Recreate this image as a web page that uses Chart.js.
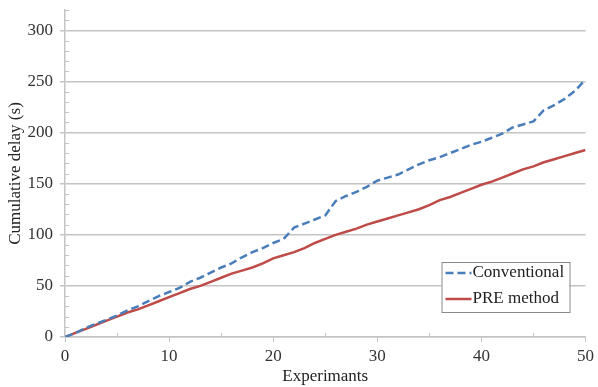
<!DOCTYPE html>
<html>
<head>
<meta charset="utf-8">
<script src="https://cdn.jsdelivr.net/npm/chart.js@4"></script>
<style>
  html, body { margin: 0; padding: 0; background: #fff; }
  #wrap { width: 598px; height: 387px; }
</style>
</head>
<body>
<div id="wrap"><canvas id="delayChart" width="598" height="387"></canvas></div>
<script>
const experiments = Array.from({ length: 51 }, (_, i) => i);

const conventional = [
  0, 4, 9, 13, 17, 21, 26, 30, 35, 40,
  44, 48, 54, 58, 63, 68, 72, 78, 83, 87,
  92, 96, 107, 111, 115, 119, 133, 138, 142, 147,
  153, 156, 159, 164, 169, 173, 176, 180, 184, 188,
  191, 195, 199, 205, 208, 211, 222, 227, 233, 241,
  252
];

const preMethod = [
  0, 4, 8, 12, 16, 20, 24, 27, 31, 35,
  39, 43, 47, 50, 54, 58, 62, 65, 68, 72,
  77, 80, 83, 87, 92, 96, 100, 103, 106, 110,
  113, 116, 119, 122, 125, 129, 134, 137, 141, 145,
  149, 152, 156, 160, 164, 167, 171, 174, 177, 180,
  183
];

const seriesNames = ["Conventional", "PRE method"];
const yMajorTicks = [0, 50, 100, 150, 200, 250, 300];

const FONT = "'Liberation Serif', 'Times New Roman', serif";
const AXIS_GRAY = "#c4c4c4";

// small inside ticks between the labelled ones
const minorTicks = {
  id: "minorTicks",
  afterDraw(chart) {
    const { ctx, scales: { x, y } } = chart;
    ctx.save();
    ctx.strokeStyle = AXIS_GRAY;
    ctx.lineWidth = 1;
    ctx.beginPath();
    for (let v = 10; v <= 320; v += 10) {
      if (v % 50 === 0) continue;
      const py = Math.round(y.getPixelForValue(v)) + 0.5;
      ctx.moveTo(x.left, py);
      ctx.lineTo(x.left + 4, py);
    }
    for (let v = 5; v < 50; v += 10) {
      const px = Math.round(x.getPixelForValue(v)) + 0.5;
      ctx.moveTo(px, y.bottom);
      ctx.lineTo(px, y.bottom - 4);
    }
    ctx.stroke();
    ctx.restore();
  }
};

// boxed legend sitting inside the plot, lower right
const boxLegend = {
  id: "boxLegend",
  afterDraw(chart) {
    const { ctx, chartArea } = chart;
    const w = 128, h = 50;
    const left = chartArea.right - 16 - w;
    const top = chartArea.bottom - 25 - h;
    ctx.save();
    ctx.fillStyle = "#fff";
    ctx.fillRect(left, top, w, h);
    ctx.strokeStyle = "#8a8a8a";
    ctx.lineWidth = 1;
    ctx.strokeRect(left + 0.5, top + 0.5, w, h);
    ctx.font = "17px " + FONT;
    ctx.textBaseline = "middle";
    chart.data.datasets.forEach((ds, i) => {
      const cy = top + 11 + i * 26;
      ctx.strokeStyle = ds.borderColor;
      ctx.lineWidth = 2.5;
      ctx.setLineDash(ds.borderDash || []);
      ctx.beginPath();
      ctx.moveTo(left + 4, cy);
      ctx.lineTo(left + 30, cy);
      ctx.stroke();
      ctx.setLineDash([]);
      ctx.fillStyle = "#222";
      ctx.fillText(ds.label, left + 31, cy);
    });
    ctx.restore();
  }
};

new Chart(document.getElementById("delayChart"), {
  type: "line",
  data: {
    labels: experiments,
    datasets: [
      {
        label: seriesNames[0],
        data: conventional,
        borderColor: "#4a7ebb",
        borderWidth: 2.5,
        borderDash: [8, 4],
        pointRadius: 0,
        tension: 0
      },
      {
        label: seriesNames[1],
        data: preMethod,
        borderColor: "#be4b48",
        borderWidth: 2.5,
        pointRadius: 0,
        tension: 0
      }
    ]
  },
  options: {
    responsive: false,
    animation: false,
    layout: { padding: { top: 10, right: 10, left: 0, bottom: 0 } },
    plugins: {
      legend: { display: false },
      tooltip: { enabled: false }
    },
    scales: {
      x: {
        type: "linear",
        min: 0,
        max: 50,
        ticks: {
          stepSize: 10,
          padding: 4,
          color: "#333",
          font: { family: FONT, size: 17 }
        },
        grid: {
          drawOnChartArea: false,
          color: AXIS_GRAY,
          tickLength: 5
        },
        border: { color: AXIS_GRAY, width: 1.5 },
        title: {
          display: true,
          text: "Experimants",
          color: "#222",
          font: { family: FONT, size: 17 },
          padding: { top: 0, bottom: 0 }
        },
        afterFit(scale) { scale.height = 50; }
      },
      y: {
        min: 0,
        max: 320,
        afterBuildTicks(scale) {
          scale.ticks = yMajorTicks.map(v => ({ value: v }));
        },
        ticks: {
          padding: 7,
          color: "#333",
          font: { family: FONT, size: 17 }
        },
        grid: {
          color: AXIS_GRAY,
          lineWidth: 1.5,
          tickLength: 5
        },
        border: { color: AXIS_GRAY, width: 1.5 },
        title: {
          display: true,
          text: "Cumulative delay (s)",
          color: "#222",
          font: { family: FONT, size: 17 },
          padding: { top: 5, bottom: 2 }
        },
        afterFit(scale) {
          scale.width = 65;
          scale.paddingTop = 0;
          scale.paddingBottom = 0;
        }
      }
    }
  },
  plugins: [minorTicks, boxLegend]
});
</script>
</body>
</html>
